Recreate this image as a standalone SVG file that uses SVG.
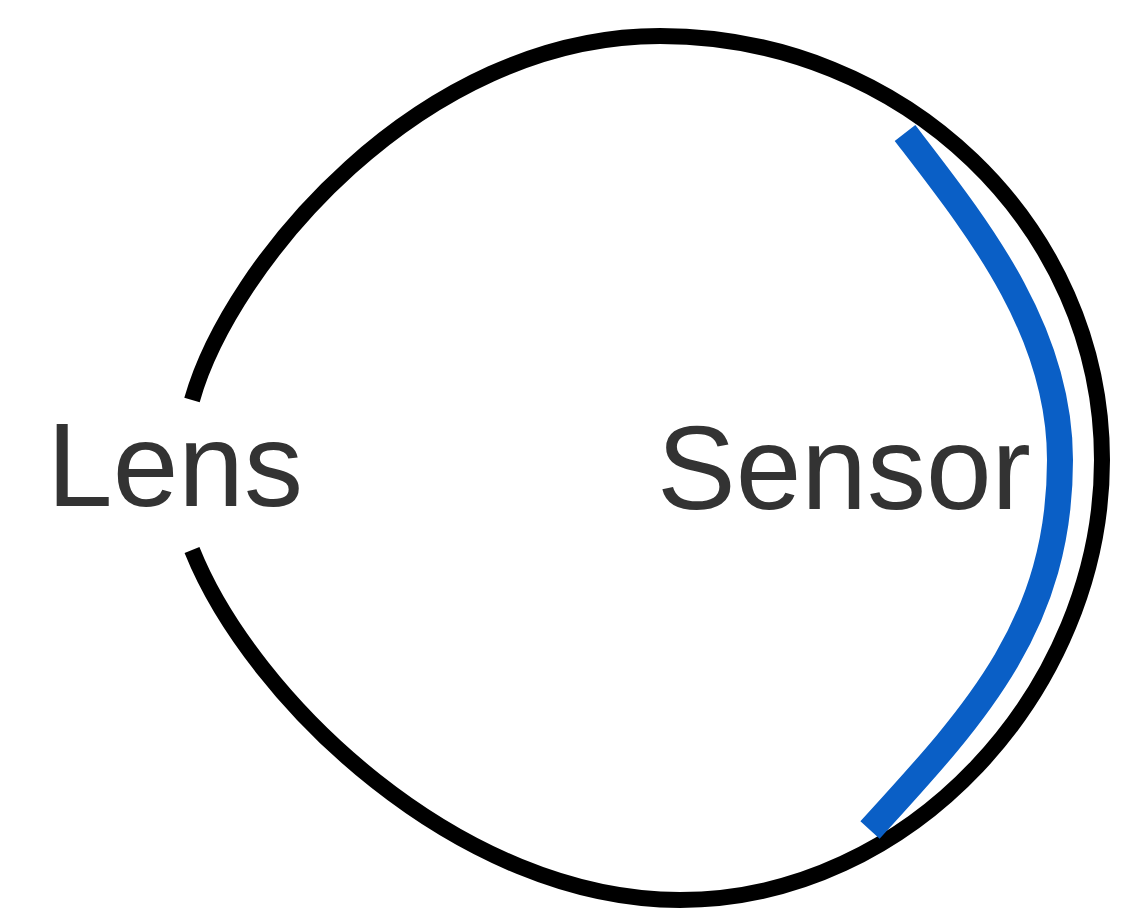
<svg xmlns="http://www.w3.org/2000/svg" width="1147" height="918" viewBox="0 0 1147 918">
  <style>
    .outline { fill: none; stroke: #000000; stroke-width: 16; stroke-linecap: butt; stroke-linejoin: round; }
    .sensor-arc { fill: none; stroke: #0a5fc6; stroke-width: 26; stroke-linecap: butt; }
    .label { font-family: "Liberation Sans", Arial, sans-serif; font-size: 118px; fill: #333333; }
  </style>
  <rect width="1147" height="918" fill="#ffffff"/>
  <g id="eye">
    <path class="outline" d="M192,400 C230,265 420,36 660,36 C904,36 1102,226 1102,460 C1102,690 910,900 680,900 C460,900 252,700 192,550"/>
  </g>
  <g id="sensor">
    <path class="sensor-arc" d="M905,133 C978,228 1060,330 1060,460 C1060,625 975,715 870,830"/>
  </g>
  <g id="lens-label">
    <text class="label" x="47" y="506">Lens</text>
  </g>
  <g id="sensor-label">
    <text class="label" x="657" y="509">Sensor</text>
  </g>
</svg>
